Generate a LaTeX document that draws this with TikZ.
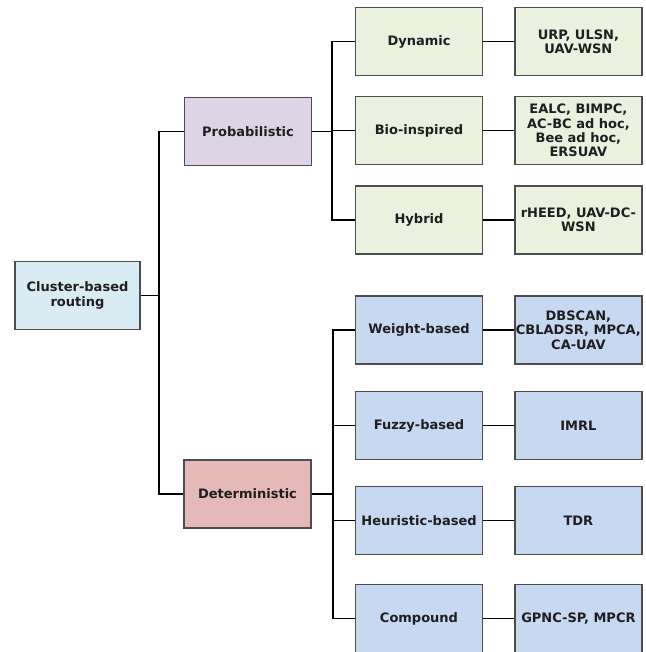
\documentclass[tikz,border=0pt]{standalone}
\usepackage{fontspec}
\setmainfont{DejaVu Sans}
\usetikzlibrary{positioning}
\definecolor{rootfill}{HTML}{DAECF3}
\definecolor{probfill}{HTML}{DDD5E6}
\definecolor{detfill}{HTML}{E5B9B8}
\definecolor{greenfill}{HTML}{EBF1DF}
\definecolor{bluefill}{HTML}{C6D9F0}
\definecolor{edgegray}{HTML}{4D4D4D}

\begin{document}
\begin{tikzpicture}[
  x=1pt, y=-1pt,
  node distance=31pt,
  block/.style={draw=edgegray, line width=1.4pt, align=center, inner sep=1pt,
    font=\fontsize{13}{14.3}\selectfont\bfseries, text=black!88,
    minimum width=127pt, minimum height=68pt},
  leaf/.style={block, fill=#1},
  link/.style={line width=1.7pt, black}
]
\useasboundingbox (0,0) rectangle (645,652);

\node[block, fill=rootfill, minimum width=125pt] (root) at (77.5,295.5) {Cluster-based\\routing};
\node[block, fill=probfill] (prob) at (248,131.5) {Probabilistic};
\node[block, fill=detfill] (det) at (247.5,494) {Deterministic};

\node[leaf=greenfill] (dyn) at (419,41.5) {Dynamic};
\node[leaf=greenfill] (bio) at (419,130.5) {Bio-inspired};
\node[leaf=greenfill] (hyb) at (419,220) {Hybrid};
\node[leaf=greenfill, right=of dyn] (dynref) {URP, ULSN,\\UAV-WSN};
\node[leaf=greenfill, right=of bio] (bioref) {EALC, BIMPC,\\AC-BC ad hoc,\\Bee ad hoc,\\ERSUAV};
\node[leaf=greenfill, right=of hyb] (hybref) {rHEED, UAV-DC-\\WSN};

\node[leaf=bluefill] (wgt) at (419,330) {Weight-based};
\node[leaf=bluefill] (fuz) at (419,425.5) {Fuzzy-based};
\node[leaf=bluefill] (heu) at (419,520.5) {Heuristic-based};
\node[leaf=bluefill] (cmp) at (419,618.5) {Compound};
\node[leaf=bluefill, right=of wgt] (wgtref) {DBSCAN,\\CBLADSR, MPCA,\\CA-UAV};
\node[leaf=bluefill, right=of fuz] (fuzref) {IMRL};
\node[leaf=bluefill, right=of heu] (heuref) {TDR};
\node[leaf=bluefill, right=of cmp] (cmpref) {GPNC-SP, MPCR};

\draw[link] (root.east) -- ++(18,0) coordinate (trunk) |- (prob.west);
\draw[link] (trunk) |- (det.west);

\draw[link] (prob.east) -- ++(20,0) coordinate (pbus);
\foreach \n in {dyn,bio,hyb}
  \draw[link] (pbus) |- (\n.west);
\draw[link] (det.east) -- ++(21,0) coordinate (dbus);
\foreach \n in {wgt,fuz,heu,cmp}
  \draw[link] (dbus) |- (\n.west);

\foreach \n in {dyn,bio,hyb,wgt,fuz,heu,cmp}
  \draw[link] (\n) -- (\n ref);
\end{tikzpicture}
\end{document}
